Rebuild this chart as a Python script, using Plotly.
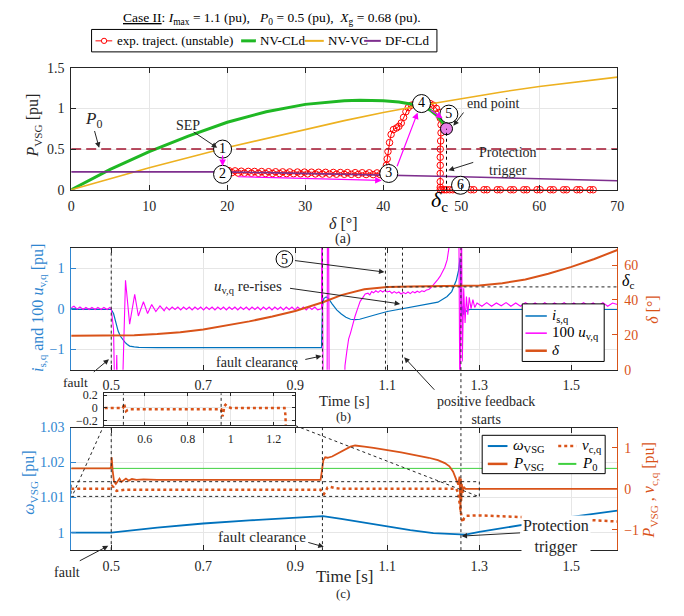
import numpy as np
import plotly.graph_objects as go

# ---------------- panel (a) data ----------------
nvcld_delta = [0, 5, 10, 15, 20, 25, 30, 35, 37, 40, 42, 44, 45, 46, 46.8, 47.5, 48.1]
nvcld_p = [0, 0.25, 0.47, 0.66, 0.83, 0.96, 1.05, 1.095, 1.1, 1.095, 1.08, 1.05, 1.03, 0.98, 0.92, 0.84, 0.75]
nvvc_delta = [0, 10, 20, 30, 35, 40, 45, 50, 55, 60, 65, 70]
nvvc_p = [0, 0.27, 0.52, 0.74, 0.85, 0.95, 1.04, 1.12, 1.2, 1.27, 1.33, 1.385]
dfcld_delta = [0, 10, 19, 25, 30, 40, 50, 60, 70]
dfcld_p = [0.22, 0.22, 0.22, 0.21, 0.2, 0.185, 0.16, 0.135, 0.11]
p0_value = 0.5
p0_delta = [0, 70]

band_delta = [19.6, 19.9, 20.2, 20.6, 21.0, 21.4, 21.8, 22.2, 22.7, 23.1,
              23.5, 24.0, 24.4, 24.9, 25.3, 25.8, 26.2, 26.7, 27.1, 27.6,
              28.0, 28.5, 29.0, 29.4, 29.9, 30.3, 30.8, 31.3, 31.7, 32.2,
              32.6, 33.1, 33.6, 34.0, 34.5, 35.0, 35.4, 35.9, 36.4, 36.8,
              37.3, 37.8, 38.2, 38.7, 39.2, 39.6, 40.0]
band_p = [0.23, 0.205, 0.235, 0.21, 0.232, 0.205, 0.228, 0.204, 0.226, 0.203,
          0.225, 0.202, 0.224, 0.2, 0.222, 0.2, 0.221, 0.199, 0.22, 0.198,
          0.219, 0.197, 0.218, 0.196, 0.217, 0.195, 0.216, 0.194, 0.215, 0.193,
          0.214, 0.192, 0.213, 0.191, 0.212, 0.19, 0.211, 0.189, 0.21, 0.188,
          0.209, 0.187, 0.208, 0.186, 0.207, 0.186, 0.2]
rise_delta = [40.3, 40.4, 40.5, 40.6, 40.8, 41.0, 41.3, 41.7, 42.0, 42.3,
              42.6, 42.9, 43.2, 43.6, 44.0, 44.5, 45.0, 45.5, 46.0, 46.4,
              46.8, 47.1, 47.3, 47.4, 47.4, 47.35, 47.3, 47.3, 47.3, 47.3,
              47.3, 47.3, 47.3]
rise_p = [0.22, 0.3, 0.38, 0.47, 0.58, 0.68, 0.74, 0.76, 0.78, 0.82,
          0.89, 0.96, 1.01, 1.04, 1.05, 1.06, 1.07, 1.07, 1.06, 1.04,
          1.0, 0.95, 0.88, 0.8, 0.7, 0.6, 0.5, 0.4, 0.3, 0.2,
          0.1, 0.03, 0.0]
zeros_delta = [47.5, 47.8, 48.1, 48.5, 48.9, 49.3, 49.7, 50.1, 51.2, 51.6,
               52.9, 53.3, 54.6, 55.0, 56.3, 56.7, 58.0, 58.4, 59.7, 60.1,
               61.4, 61.8, 63.1, 63.5, 64.8, 65.2, 66.5, 66.9]
zeros_p = [0.0] * len(zeros_delta)

point_labels = ["1", "2", "3", "4", "5", "6"]
point_delta = [19.4, 19.4, 40.7, 44.9, 48.4, 49.9]
point_p = [0.5, 0.19, 0.2, 1.06, 0.93, 0.055]
end_delta = [48.1]
end_p = [0.75]
delta_c_deg = 48.1

# ---------------- panel (b) data ----------------
isq_t = [0.413, 0.45, 0.49, 0.5, 0.505, 0.51, 0.515, 0.52, 0.525, 0.53,
         0.535, 0.54, 0.55, 0.56, 0.6, 0.7, 0.8, 0.9, 0.957, 0.959,
         0.962, 0.967, 0.972, 0.98, 0.99, 1.0, 1.01, 1.02, 1.03, 1.04,
         1.06, 1.08, 1.1, 1.13, 1.16, 1.19, 1.21, 1.23, 1.24, 1.25,
         1.255, 1.258, 1.26, 1.262, 1.264, 1.266, 1.268, 1.27, 1.275, 1.28,
         1.3, 1.4, 1.5, 1.6]
isq = [-0.02, -0.01, -0.02, -0.02, -0.12, -0.35, -0.55, -0.68, -0.76, -0.83,
       -0.88, -0.92, -0.94, -0.95, -0.96, -0.96, -0.96, -0.96, -0.96, 0.05,
       0.25, 0.29, 0.25, 0.12, -0.03, -0.13, -0.21, -0.26, -0.27, -0.26,
       -0.19, -0.13, -0.07, -0.01, 0.05, 0.11, 0.16, 0.3, 0.42, 0.7,
       0.95, 1.25, 0.1, -0.2, 0.05, -0.15, 0.0, -0.08, -0.03, -0.02,
       -0.02, -0.02, -0.02, -0.02]

uvq_t_pre = [0.413, 0.419, 0.426, 0.432, 0.439, 0.445, 0.452, 0.458, 0.465, 0.471,
             0.478, 0.484, 0.491, 0.497, 0.5, 0.505, 0.509, 0.512, 0.515, 0.522,
             0.531, 0.540, 0.551, 0.559, 0.570, 0.579, 0.588, 0.597, 0.606, 0.615]
uvq_pre = [0.02, 0.06, -0.01, 0.04, -0.02, 0.03, -0.02, 0.03, -0.02, 0.03,
           -0.02, 0.03, -0.02, 0.03, 0.0, -0.5, -3.0, -1.14, -3.0, -3.0,
           0.7, -0.38, 0.35, -0.18, 0.17, -0.12, 0.1, -0.07, 0.07, -0.05]
uvq_ripple1 = [0.04, -0.03, 0.04, -0.02, 0.04, -0.03, 0.04, -0.02, 0.04, -0.03,
               0.04, -0.02, 0.04, -0.03, 0.04, -0.02, 0.04, -0.03, 0.04, -0.02,
               0.04, -0.03, 0.04, -0.02, 0.04, -0.03, 0.04, -0.02, 0.04, -0.03,
               0.04, -0.02, 0.04, -0.03, 0.04, -0.02, 0.04, -0.03, 0.04, -0.02,
               0.04, -0.03, 0.04, -0.02, 0.04, -0.03, 0.04, -0.02, 0.04, -0.03,
               0.04, -0.02, 0.04, -0.03, 0.0]
uvq_ripple1_t = np.linspace(0.62, 0.9548, len(uvq_ripple1))
uvq_t_post = [0.957, 0.958, 0.961, 0.969, 0.970, 0.972, 0.974, 1.005, 1.008, 1.012,
              1.016, 1.02, 1.025, 1.03, 1.036, 1.041, 1.046, 1.052, 1.058, 1.062,
              1.066, 1.07, 1.075, 1.08, 1.085, 1.09, 1.095, 1.1, 1.105, 1.11,
              1.115, 1.12, 1.125, 1.13, 1.135, 1.14, 1.145, 1.15, 1.155, 1.16,
              1.165, 1.17, 1.175, 1.18, 1.185, 1.19, 1.195, 1.2, 1.205, 1.21,
              1.215, 1.22, 1.225, 1.23, 1.234, 1.24, 1.255, 1.258, 1.261, 1.263,
              1.266, 1.269, 1.272, 1.275, 1.278, 1.282, 1.286, 1.29]
uvq_post = [0.0, 3, -3, -3, 3, 3, -3, -3, -1.4, -1.05,
            -0.74, -0.6, -0.38, -0.18, 0.02, 0.18, 0.26, 0.36, 0.38, 0.34,
            0.42, 0.39, 0.44, 0.4, 0.45, 0.41, 0.45, 0.41, 0.43, 0.38,
            0.42, 0.38, 0.41, 0.36, 0.4, 0.37, 0.41, 0.37, 0.42, 0.39,
            0.43, 0.4, 0.44, 0.42, 0.46, 0.47, 0.52, 0.58, 0.64, 0.72,
            0.8, 0.9, 1.02, 1.2, 1.5, 3, 3, -3, 3, -1.3,
            0.5, -0.35, 0.3, -0.15, 0.28, 0.0, 0.22, 0.03]
uvq_ripple2 = [0.14, 0.06, 0.15, 0.06, 0.14, 0.07, 0.15, 0.06, 0.14, 0.06,
               0.15, 0.07, 0.14, 0.06, 0.15, 0.06, 0.14, 0.07, 0.15, 0.06,
               0.14, 0.06, 0.15, 0.07, 0.14, 0.06, 0.15, 0.06, 0.14, 0.1]
uvq_ripple2_t = np.linspace(1.295, 1.6, len(uvq_ripple2))

delta_t = [0.413, 0.5, 0.55, 0.6, 0.65, 0.7, 0.75, 0.8, 0.85, 0.9,
           0.96, 1.0, 1.05, 1.1, 1.15, 1.2, 1.26, 1.3, 1.35, 1.4,
           1.45, 1.5, 1.55, 1.6]
delta_deg = [19.5, 19.5, 19.7, 20.4, 21.5, 23.1, 25.2, 27.7, 30.5, 33.7,
             38.7, 42.8, 46.2, 47.5, 47.7, 47.8, 47.8, 48.3, 49.6, 51.8,
             55.0, 59.0, 63.5, 68.7]
delta_c_line = 47.5

# event times [s]
t_fault = 0.5
t_clear = 0.959
t_point5 = 1.096
t_posfb = 1.133
t_prot = 1.26

# ---------------- panel (c) data ----------------
omega_t = [0.413, 0.5, 0.6, 0.7, 0.8, 0.9, 0.96, 1.0, 1.05, 1.1,
           1.15, 1.2, 1.25, 1.27, 1.3, 1.35, 1.4, 1.45, 1.5, 1.55, 1.6]
omega = [1.0, 1.0, 1.0014, 1.0026, 1.0035, 1.0042, 1.0047, 1.0039, 1.0028, 1.0017,
         1.0007, 0.99985, 0.99945, 0.99945, 1.0002, 1.0012, 1.0023, 1.0034, 1.0045, 1.0054, 1.0063]

pvsg_t = [0.413, 0.45, 0.498, 0.5, 0.501, 0.503, 0.506, 0.51, 0.514, 0.518,
          0.522, 0.527, 0.532, 0.538, 0.545, 0.555, 0.57, 0.6, 0.7, 0.8,
          0.9, 0.955, 0.958, 0.961, 0.965, 0.97, 0.98, 0.99, 1.0, 1.01,
          1.02, 1.03, 1.04, 1.05, 1.07, 1.09, 1.11, 1.13, 1.15, 1.17,
          1.19, 1.21, 1.225, 1.235, 1.243, 1.249, 1.254, 1.257, 1.259, 1.26,
          1.261, 1.262, 1.264, 1.266, 1.27, 1.28, 1.6]
pvsg = [0.5, 0.5, 0.5, 0.55, 0.77, 0.45, 0.18, 0.12, 0.19, 0.25,
        0.17, 0.22, 0.25, 0.2, 0.24, 0.22, 0.23, 0.22, 0.22, 0.22,
        0.22, 0.22, 0.45, 0.7, 0.77, 0.76, 0.79, 0.85, 0.92, 0.98,
        1.03, 1.06, 1.05, 1.03, 1.0, 0.97, 0.93, 0.89, 0.85, 0.81,
        0.76, 0.7, 0.63, 0.55, 0.42, 0.25, 0.1, 0.3, -0.57, 0.25,
        -0.3, 0.12, -0.1, 0.05, 0.0, 0.0, 0.0]

vcq_t = [0.413, 0.45, 0.498, 0.5, 0.502, 0.505, 0.508, 0.512, 0.52, 0.53,
         0.55, 0.6, 0.7, 0.8, 0.9, 0.955, 0.958, 0.962, 0.966, 0.97,
         0.975, 0.985, 1.0, 1.1, 1.2, 1.25, 1.254, 1.257, 1.26, 1.263,
         1.267, 1.272, 1.3, 1.4, 1.5, 1.6]
vcq = [0.0, 0.0, 0.0, 0.03, 0.07, 0.04, -0.02, -0.05, -0.03, -0.02,
       -0.02, -0.02, -0.02, -0.02, -0.02, -0.02, -0.1, -0.13, -0.06, 0.03,
       0.05, 0.02, 0.0, 0.0, 0.0, 0.0, -0.1, -0.35, -0.6, -0.82,
       -0.72, -0.66, -0.65, -0.69, -0.74, -0.8]
p0_t = [0.413, 1.6]
zoom_box_t = [0.413, 1.3]
zoom_box_p = [-0.185, 0.175]

# tick labels
a_xticks = [0, 10, 20, 30, 40, 50, 60, 70]
a_yticks = [0, 0.5, 1, 1.5]
a_yticktext = ["0", "0.5", "1", "1.5"]
t_ticks = [0.5, 0.7, 0.9, 1.1, 1.3, 1.5]
b_lticks = [-1, 0, 1]
b_lticktext = ["\u22121", "0", "1"]
b_rticks = [0, 20, 40, 60]
c_lticks = [1, 1.01, 1.02, 1.03]
c_lticktext = ["1", "1.01", "1.02", "1.03"]
c_rticks = [-1, 0, 1]
in_xticks = [0.6, 0.8, 1, 1.2]
in_xticktext = ["0.6", "0.8", "1", "1.2"]
in_yticks = [-0.2, 0, 0.2]
in_yticktext = ["\u22120.2", "0", "0.2"]

assert len(band_delta) == len(band_p) and len(rise_delta) == len(rise_p)
assert len(isq_t) == len(isq) and len(uvq_t_pre) == len(uvq_pre) and len(uvq_t_post) == len(uvq_post)
assert len(pvsg_t) == len(pvsg) and len(vcq_t) == len(vcq) and len(omega_t) == len(omega)

# ---------------- styling ----------------
W, H = 684, 616
FONT = "Liberation Serif"
DARK = "#262626"
GRID = "#e6e6e6"
BLUE = "#0072BD"
BLUE_T = "#2f86d0"
ORANGE = "#D95319"
MAGENTA = "#FF00FF"
RED = "#FF0000"
GREEN = "#1FB824"
YELLOW = "#EDB120"
PURPLE = "#7E2F8E"
DARKRED = "#A2142F"
LGREEN = "#3fd03f"


def px(x):
    return x / W


def py(y):
    return 1 - y / H


XD = [px(68.3), px(623.4)]
AD = [py(187.3), py(62.3)]
BD = [py(371.7), py(246.7)]
CD = [py(556.7), py(431.0)]
IXD = [px(101.7), px(296.0)]
IYD = [py(428.3), py(396.0)]

fig = go.Figure()
sk = dict(showlegend=False, hoverinfo="skip")

# (a)
fig.add_trace(go.Scatter(x=band_delta + rise_delta + zeros_delta, y=band_p + rise_p + zeros_p,
                         mode="lines+markers", line=dict(color=RED, width=1),
                         marker=dict(symbol="circle-open", size=6.5, color=RED, line=dict(width=1)),
                         xaxis="x", yaxis="y", cliponaxis=False, **sk))
fig.add_trace(go.Scatter(x=nvcld_delta, y=nvcld_p, mode="lines", line=dict(color=GREEN, width=3),
                         xaxis="x", yaxis="y", **sk))
fig.add_trace(go.Scatter(x=nvvc_delta, y=nvvc_p, mode="lines", line=dict(color=YELLOW, width=1.6),
                         xaxis="x", yaxis="y", **sk))
fig.add_trace(go.Scatter(x=dfcld_delta, y=dfcld_p, mode="lines", line=dict(color=PURPLE, width=1.6),
                         xaxis="x", yaxis="y", **sk))
fig.add_trace(go.Scatter(x=p0_delta, y=[p0_value] * len(p0_delta), mode="lines",
                         line=dict(color=DARKRED, width=1.5, dash="10px,5px"),
                         xaxis="x", yaxis="y", **sk))
fig.add_trace(go.Scatter(x=end_delta, y=end_p, mode="markers",
                         marker=dict(size=12, color="#E67FE6", line=dict(color="black", width=1)),
                         xaxis="x", yaxis="y", cliponaxis=False, **sk))
fig.add_trace(go.Scatter(x=point_delta, y=point_p, mode="markers+text", text=point_labels,
                         textposition="middle center", textfont=dict(family=FONT, size=14, color="black"),
                         marker=dict(size=18, color="white", line=dict(color="black", width=1)),
                         xaxis="x", yaxis="y", cliponaxis=False, **sk))

# (b)
fig.add_trace(go.Scatter(x=isq_t, y=isq, mode="lines", line=dict(color=BLUE, width=1.2),
                         xaxis="x2", yaxis="y2", **sk))
uvq_t_all = list(uvq_t_pre) + list(uvq_ripple1_t) + list(uvq_t_post) + list(uvq_ripple2_t)
uvq_all = uvq_pre + uvq_ripple1 + uvq_post + uvq_ripple2
fig.add_trace(go.Scatter(x=uvq_t_all, y=uvq_all, mode="lines", line=dict(color=MAGENTA, width=1.1),
                         xaxis="x2", yaxis="y2", **sk))
fig.add_trace(go.Scatter(x=delta_t, y=delta_deg, mode="lines", line=dict(color=ORANGE, width=2),
                         xaxis="x2", yaxis="y3", **sk))

# (c)
fig.add_trace(go.Scatter(x=omega_t, y=omega, mode="lines", line=dict(color=BLUE, width=1.8),
                         xaxis="x3", yaxis="y4", **sk))
fig.add_trace(go.Scatter(x=p0_t, y=[p0_value] * len(p0_t), mode="lines", line=dict(color=LGREEN, width=1),
                         xaxis="x3", yaxis="y5", **sk))
fig.add_trace(go.Scatter(x=pvsg_t, y=pvsg, mode="lines", line=dict(color=ORANGE, width=1.8),
                         xaxis="x3", yaxis="y5", **sk))
fig.add_trace(go.Scatter(x=vcq_t, y=vcq, mode="lines", line=dict(color=ORANGE, width=2.5, dash="dot"),
                         xaxis="x3", yaxis="y5", **sk))
# inset
fig.add_trace(go.Scatter(x=vcq_t, y=vcq, mode="lines", line=dict(color=ORANGE, width=2.5, dash="dot"),
                         xaxis="x4", yaxis="y6", **sk))


def xax(dom, rng, anchor, tv, tt=None, size=14):
    return dict(domain=dom, range=rng, anchor=anchor, tickvals=tv, ticktext=tt or [str(v) for v in tv],
                ticks="inside", ticklen=5, tickcolor=DARK, showline=True, linecolor=DARK, linewidth=1,
                mirror="ticks", showgrid=True, gridcolor=GRID, zeroline=False,
                tickfont=dict(family=FONT, size=size, color=DARK), ticklabelstandoff=3)


def yax(dom, rng, anchor, tv, tt, color, side="left", mirror=False, grid=True, size=14, overlaying=None):
    d = dict(range=rng, anchor=anchor, tickvals=tv, ticktext=tt, side=side,
             ticks="inside", ticklen=5, tickcolor=color, showline=True, linecolor=color, linewidth=1,
             mirror=mirror, showgrid=grid, gridcolor=GRID, zeroline=False,
             tickfont=dict(family=FONT, size=size, color=color), ticklabelstandoff=3)
    if overlaying:
        d["overlaying"] = overlaying
    else:
        d["domain"] = dom
    return d


layout = dict(
    width=W, height=H, autosize=False, margin=dict(l=0, r=0, t=0, b=0),
    paper_bgcolor="white", plot_bgcolor="white", showlegend=False,
    font=dict(family=FONT, size=14, color=DARK),
    xaxis=xax(XD, [0, 70], "y", a_xticks),
    yaxis=yax(AD, [0, 1.5], "x", a_yticks, a_yticktext, DARK, mirror="ticks"),
    xaxis2=xax(XD, [0.413, 1.6], "y2", t_ticks),
    yaxis2=yax(BD, [-1.5, 1.5], "x2", b_lticks, b_lticktext, BLUE_T),
    yaxis3=yax(None, [0, 70], "x2", b_rticks, [str(v) for v in b_rticks], ORANGE, side="right",
               grid=False, overlaying="y2"),
    xaxis3=xax(XD, [0.413, 1.6], "y4", t_ticks),
    yaxis4=yax(CD, [0.995, 1.03], "x3", c_lticks, c_lticktext, BLUE_T),
    yaxis5=yax(None, [-1.5, 1.5], "x3", c_rticks, ["\u22121", "0", "1"], ORANGE, side="right",
               grid=False, overlaying="y4"),
    xaxis4=xax(IXD, [0.41, 1.3], "y6", in_xticks, in_xticktext, size=12),
    yaxis6=yax(IYD, [-0.266, 0.23], "x4", in_yticks, in_yticktext, DARK, mirror="ticks", size=12),
)
layout["xaxis4"]["ticklen"] = 3
layout["yaxis6"]["ticklen"] = 3
fig.update_layout(**layout)

shapes = []
ann = []


def vline_paper(xref, xv, ytop, ybot, color=DARK, width=1, dash="dot"):
    shapes.append(dict(type="line", xref=xref, yref="paper", x0=xv, x1=xv, y0=py(ybot), y1=py(ytop),
                       line=dict(color=color, width=width, dash=dash)))


def seg_px(x0, y0, x1, y1, color=DARK, width=1, dash="solid"):
    shapes.append(dict(type="line", xref="paper", yref="paper", x0=px(x0), y0=py(y0), x1=px(x1), y1=py(y1),
                       line=dict(color=color, width=width, dash=dash)))


def rect_px(x0, y0, x1, y1, color="black", width=1, fill="white"):
    shapes.append(dict(type="rect", xref="paper", yref="paper", x0=px(x0), y0=py(y1), x1=px(x1), y1=py(y0),
                       line=dict(color=color, width=width), fillcolor=fill))


def txt(x, y, text, size=14, color=DARK, xanchor="center", yanchor="middle", angle=0, bg=None, pad=1):
    d = dict(x=px(x), y=py(y), xref="paper", yref="paper", text=text, showarrow=False,
             xanchor=xanchor, yanchor=yanchor, textangle=angle, borderpad=pad,
             font=dict(family=FONT, size=size, color=color))
    if bg:
        d["bgcolor"] = bg
    ann.append(d)


def arrow(tip, tail, color=DARK, width=1, head=2, size=1.1):
    ann.append(dict(x=px(tip[0]), y=py(tip[1]), xref="paper", yref="paper", text="",
                    showarrow=True, ax=tail[0] - tip[0], ay=tail[1] - tip[1], axref="pixel", ayref="pixel",
                    arrowhead=head, arrowsize=size, arrowwidth=width, arrowcolor=color, standoff=0,
                    startstandoff=0))


def data_arrow(tip, tail, color=MAGENTA):
    ann.append(dict(x=tip[0], y=tip[1], xref="x", yref="y", ax=tail[0], ay=tail[1], axref="x", ayref="y",
                    text="", showarrow=True, arrowhead=2, arrowsize=1.1, arrowwidth=1.2, arrowcolor=color))


# ---- panel (a) decorations
shapes.append(dict(type="line", xref="x", yref="y", x0=delta_c_deg, x1=delta_c_deg, y0=0, y1=end_p[0],
                   line=dict(color="black", width=1, dash="dot")))
data_arrow((19.4, 0.29), (19.4, 0.44))
data_arrow((39.8, 0.115), (21.2, 0.16))
data_arrow((44.4, 0.95), (41.7, 0.27))
data_arrow((47.6, 0.88), (45.9, 0.99))
txt(90.7, 116, "<i>P</i><sub>0</sub>", size=17)
arrow((96.7, 144.3), (91.7, 126))
txt(186.7, 121.5, "SEP", size=14)
arrow((216.7, 144.3), (191.7, 127.5))
txt(498, 98.5, "end point", size=14)
arrow((456.7, 121.7), (468, 107))
txt(512, 158, "Protection<br>trigger", size=14)
arrow((451.7, 167.3), (478, 159))
txt(443, 199, "<i>δ</i><sub>c</sub>", size=22, color="black")
txt(345, 222, "<i>δ</i> [°]", size=16)
txt(345, 238, "(a)", size=14)
txt(30, 122, "<i>P</i><sub>VSG</sub> [pu]", size=16, angle=-90)

# title & legend (a)
txt(272, 12, "<u>Case II</u>: <i>I</i><sub>max</sub> = 1.1 (pu),\u00a0\u00a0 <i>P</i><sub>0</sub> = 0.5 (pu),\u00a0 <i>X</i><sub>g</sub> = 0.68 (pu).", size=13.5, color="black")
rect_px(89, 23, 440, 46)
seg_px(93, 34.7, 110, 34.7, RED, 1)
shapes.append(dict(type="circle", xref="paper", yref="paper", x0=px(99), x1=px(104.4), y0=py(37.4), y1=py(32),
                   line=dict(color=RED, width=1), fillcolor="white"))
txt(113, 34.5, "exp. traject. (unstable)", size=13, color="black", xanchor="left")
seg_px(241, 34.7, 256, 34.7, GREEN, 3)
txt(258, 34.5, "NV-CLd", size=13, color="black", xanchor="left")
seg_px(305.7, 34.7, 325, 34.7, YELLOW, 2)
txt(327, 34.5, "NV-VC", size=13, color="black", xanchor="left")
seg_px(366, 34.7, 383, 34.7, PURPLE, 2)
txt(385, 34.5, "DF-CLd", size=13, color="black", xanchor="left")

# ---- panel (b) decorations
for tv in (t_fault, t_clear, t_point5, t_posfb):
    vline_paper("x2", tv, 246.7, 371.7)
vline_paper("x2", t_prot, 246.7, 556.7)
shapes.append(dict(type="line", xref="x2", yref="y3", x0=t_point5, x1=1.6, y0=delta_c_line, y1=delta_c_line,
                   line=dict(color=DARK, width=1, dash="dot")))
shapes.append(dict(type="circle", xref="paper", yref="paper", x0=px(276.5), x1=px(293.5), y0=py(266.8),
                   y1=py(249.8), line=dict(color="black", width=1), fillcolor="white"))
txt(285, 258.5, "5", size=14, color="black")
arrow((386.7, 271.7), (295.7, 260))
txt(247.5, 286.5, "<i>u</i><sub>v,q</sub> re-rises", size=15)
arrow((402.7, 304.3), (291, 288.5))
txt(257.5, 364.5, "fault clearance", size=14)
arrow((322.7, 357.7), (305, 361.5))
txt(73, 384.5, "fault", size=13.5)
arrow((106.7, 361), (90, 375))
txt(490, 394.5, "positive feedback<br>starts", size=14, yanchor="top")
arrow((406.7, 359), (438.3, 393))
txt(634, 281, "<i>δ</i><sub>c</sub>", size=16, color="black", pad=0)
txt(346, 404, "Time [s]", size=15)
txt(345, 419.5, "(b)", size=13)
txt(35, 308, "<i>i</i><sub>s,q</sub> and 100 <i>u</i><sub>v,q</sub> [pu]", size=16, color=BLUE_T, angle=-90)
txt(659, 310, "<i>δ</i> [°]", size=16, color=ORANGE, angle=-90)
# legend (b)
rect_px(526.7, 304.3, 610, 363.3)
seg_px(530, 316.7, 551.7, 316.7, BLUE, 1.5)
txt(555, 316.5, "<i>i</i><sub>s,q</sub>", size=15, color="black", xanchor="left")
seg_px(530, 334.3, 551.7, 334.3, MAGENTA, 1.5)
txt(555, 334, "100 <i>u</i><sub>v,q</sub>", size=15, color="black", xanchor="left")
seg_px(530, 352.3, 551.7, 352.3, ORANGE, 2.5)
txt(555, 352, "<i>δ</i>", size=15, color="black", xanchor="left")

# ---- panel (c) decorations
for tv in (t_fault, t_clear):
    vline_paper("x3", tv, 431, 556.7)
shapes.append(dict(type="rect", xref="x3", yref="y5", x0=zoom_box_t[0], x1=zoom_box_t[1],
                   y0=zoom_box_p[0], y1=zoom_box_p[1], line=dict(color=DARK, width=1, dash="dot")))
seg_px(101.7, 428.3, 69, 502, DARK, 1, "dot")
seg_px(296, 429, 483, 502, DARK, 1, "dot")
for tv in (t_fault, 0.955):
    shapes.append(dict(type="line", xref="x4", yref="paper", x0=tv, x1=tv, y0=IYD[0], y1=IYD[1],
                       line=dict(color=DARK, width=1, dash="dot")))
txt(64, 579.5, "fault", size=14)
arrow((106, 552.3), (76, 568))
txt(262, 543.5, "fault clearance", size=15)
arrow((325, 553.3), (308, 548.5))
txt(561, 543, "Protection<br>trigger", size=16, bg="white")
arrow((465, 542.3), (525, 539))
txt(346, 583.5, "Time [s]", size=17)
txt(345, 601.5, "(c)", size=13)
txt(26, 488, "<i>ω</i><sub>VSG</sub> [pu]", size=16, color=BLUE_T, angle=-90)
txt(657, 495, "<i>P</i><sub>VSG</sub> , <i>v</i><sub>c,q</sub> [pu]", size=16, color=ORANGE, angle=-90)
# legend (c)
rect_px(486, 439, 611, 478.3)
seg_px(491.7, 450, 511.7, 450, BLUE, 2)
txt(515, 450, "<i>ω</i><sub>VSG</sub>", size=15, color="black", xanchor="left")
seg_px(563.3, 450, 581.7, 450, ORANGE, 2.5, "dot")
txt(585, 450, "<i>v</i><sub>c,q</sub>", size=15, color="black", xanchor="left")
seg_px(491.7, 468.3, 511.7, 468.3, ORANGE, 2.5)
txt(515, 468, "<i>P</i><sub>VSG</sub>", size=15, color="black", xanchor="left")
seg_px(563.3, 468.3, 581.7, 468.3, LGREEN, 2)
txt(585, 468, "<i>P</i><sub>0</sub>", size=15, color="black", xanchor="left")

fig.update_layout(shapes=shapes, annotations=ann)
fig.write_html(
    "out.html",
    config={"displayModeBar": False, "staticPlot": True},
    post_script="document.body.style.margin='0';document.documentElement.style.overflow='hidden';",
)
